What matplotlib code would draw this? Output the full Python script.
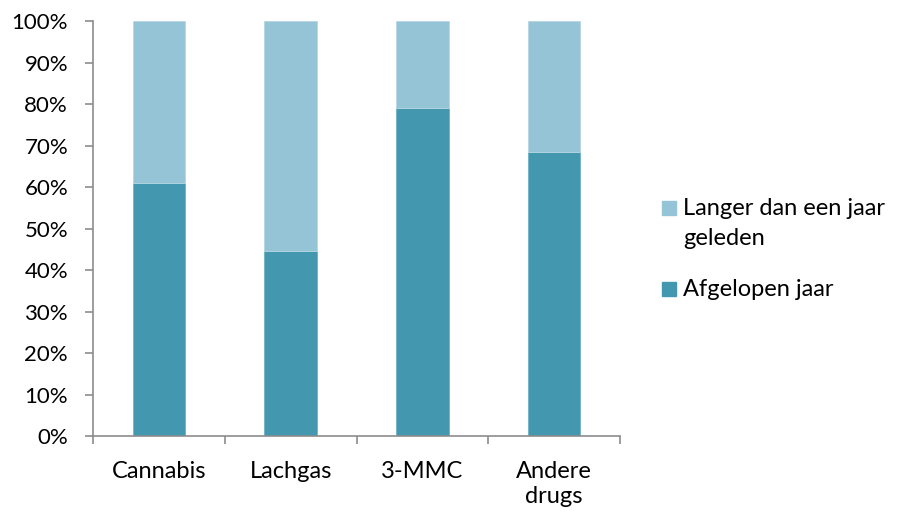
import numpy as np
import matplotlib.pyplot as plt
from matplotlib.patches import Rectangle
from matplotlib.ticker import FixedLocator, PercentFormatter

plt.rcParams['font.family'] = ['Lato', 'DejaVu Sans']

categories = ['Cannabis', 'Lachgas', '3-MMC', 'Andere\ndrugs']
afgelopen_jaar = [61.0, 44.5, 79.0, 68.5]
langer_geleden = [39.0, 55.5, 21.0, 31.5]
legend_labels = ['Langer dan een jaar\ngeleden', 'Afgelopen jaar']

dark = '#4398b0'
light = '#94c4d6'
axis_grey = '#8c8c8c'

fig = plt.figure(figsize=(8.98, 5.16), dpi=100)
ax = fig.add_axes([0.1036, 0.155, 0.5868, 0.804])

x = np.arange(len(categories))
ax.bar(x, afgelopen_jaar, width=0.4, color=dark, edgecolor='#6fb3c6', linewidth=0.6)
ax.bar(x, langer_geleden, width=0.4, bottom=afgelopen_jaar, color=light,
       edgecolor='#b5d8e3', linewidth=0.6)

ax.set_xlim(-0.5, len(categories) - 0.5)
ax.set_ylim(0, 100)
ax.set_yticks(np.arange(0, 101, 10))
ax.yaxis.set_major_formatter(PercentFormatter(decimals=0))

ax.set_xticks(x)
ax.set_xticklabels(categories, linespacing=1.25)
ax.xaxis.set_minor_locator(FixedLocator(np.arange(-0.5, len(categories), 1.0)))
ax.tick_params(axis='x', which='major', length=0, pad=18, labelsize=17)
ax.tick_params(axis='x', which='minor', length=6, width=1.2, color=axis_grey, direction='out')
ax.tick_params(axis='y', length=6, width=1.2, color=axis_grey, labelsize=16, pad=12)

for side in ['top', 'right']:
    ax.spines[side].set_visible(False)
for side in ['left', 'bottom']:
    ax.spines[side].set_color(axis_grey)
    ax.spines[side].set_linewidth(1.2)

# legend drawn by hand so the swatch sits on the first text line, as in Excel
W, H = fig.get_size_inches() * fig.dpi
for (ytop, label, col) in [(201, legend_labels[0], light), (282, legend_labels[1], dark)]:
    fig.add_artist(Rectangle((662 / W, 1 - (ytop + 14) / H), 14 / W, 14 / H,
                             transform=fig.transFigure, color=col))
    for i, line in enumerate(label.split('\n')):
        fig.text(683 / W, 1 - (ytop + 14 + i * 30) / H, line, fontsize=17,
                 va='baseline', transform=fig.transFigure)

fig.savefig('out.png', dpi=100)
